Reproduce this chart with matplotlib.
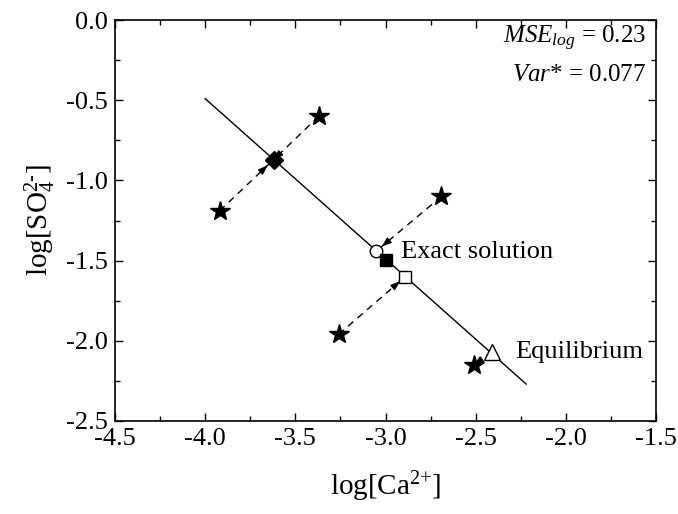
import matplotlib
matplotlib.use("Agg")
import matplotlib.pyplot as plt

plt.rcParams["font.family"] = ["Liberation Serif", "DejaVu Serif"]
plt.rcParams["mathtext.fontset"] = "custom"
plt.rcParams["mathtext.rm"] = "Liberation Serif"
plt.rcParams["mathtext.it"] = "Liberation Serif:italic"
plt.rcParams["axes.unicode_minus"] = False

# solubility line (log Ca vs log SO4)
line_x = [-4.0, -2.22]
line_y = [-0.49, -2.27]

# initial guesses (stars)
star_x = [-3.37, -3.92, -2.69, -3.26, -2.51]
star_y = [-0.60, -1.19, -1.10, -1.96, -2.15]

# points on the line
diamond_xy = (-3.62, -0.87)
circle_xy = (-3.05, -1.44)
exact_xy = (-2.995, -1.495)
square_xy = (-2.89, -1.60)
equil_xy = (-2.41, -2.07)

mse_log = 0.23
var_star = 0.077


def arrow(ax, start, end, shrink):
    ax.plot([start[0], end[0]], [start[1], end[1]], color="black",
            linestyle=(0, (5, 4)), linewidth=1.0, zorder=2)
    # short solid piece just for the head
    tail = (end[0] + 0.12 * (start[0] - end[0]), end[1] + 0.12 * (start[1] - end[1]))
    ax.annotate("", xy=end, xytext=tail,
                arrowprops=dict(arrowstyle="-|>,head_length=0.55,head_width=0.2",
                                color="black", lw=1.0, shrinkA=0, shrinkB=shrink),
                zorder=3)


fig = plt.figure(figsize=(6.78, 5.14), dpi=100)
ax = fig.add_axes([0.1696, 0.181, 0.7980, 0.780])

ax.plot(line_x, line_y, color="black", linewidth=1.0, zorder=1)

arrow(ax, (star_x[0], star_y[0]), diamond_xy, 6)
arrow(ax, (star_x[1], star_y[1]), diamond_xy, 6)
arrow(ax, (star_x[2], star_y[2]), circle_xy, 5)
arrow(ax, (star_x[3], star_y[3]), square_xy, 5)
arrow(ax, equil_xy, (star_x[4], star_y[4]), 7)

ax.plot(star_x, star_y, linestyle="none", marker="*", markersize=15,
        color="black", zorder=4)
ax.plot(*diamond_xy, marker="D", markersize=9, color="black", zorder=4)
ax.plot(*circle_xy, marker="o", markersize=9, markerfacecolor="white",
        markeredgecolor="black", markeredgewidth=1.0, zorder=4)
ax.plot(*exact_xy, marker="s", markersize=8, color="black", zorder=5)
ax.plot(*square_xy, marker="s", markersize=9, markerfacecolor="white",
        markeredgecolor="black", markeredgewidth=1.0, zorder=4)
ax.plot(*equil_xy, marker="^", markersize=12, markerfacecolor="white",
        markeredgecolor="black", markeredgewidth=1.0, zorder=4)

ax.text(-2.915, -1.445, "Exact solution", fontsize=19, ha="left", va="center")
ax.text(-2.28, -2.07, "Equilibrium", fontsize=19, ha="left", va="center")

ax.text(0.982, 0.955, r"$\mathit{MSE}_{\mathit{log}}$ = %.2f" % mse_log,
        transform=ax.transAxes, fontsize=18, ha="right", va="center")
ax.text(0.982, 0.862, r"$\mathit{Var}$* = %.3f" % var_star,
        transform=ax.transAxes, fontsize=18, ha="right", va="center")

ax.set_xlim(-4.5, -1.5)
ax.set_ylim(-2.5, 0.0)
ax.set_xticks([-4.5, -4.0, -3.5, -3.0, -2.5, -2.0, -1.5])
ax.set_yticks([-2.5, -2.0, -1.5, -1.0, -0.5, 0.0])
ax.set_xticks([-4.25, -3.75, -3.25, -2.75, -2.25, -1.75], minor=True)
ax.set_yticks([-2.25, -1.75, -1.25, -0.75, -0.25], minor=True)
ax.xaxis.set_major_formatter(matplotlib.ticker.FormatStrFormatter("%.1f"))
ax.yaxis.set_major_formatter(matplotlib.ticker.FormatStrFormatter("%.1f"))
ax.tick_params(which="both", direction="in", top=True, right=True, width=1.0)
ax.tick_params(which="major", length=6, labelsize=19)
ax.tick_params(which="minor", length=3.5)
ax.tick_params(axis="x", which="major", pad=5)
ax.tick_params(axis="y", which="major", pad=5)
for s in ax.spines.values():
    s.set_linewidth(1.2)

ax.set_xlabel(r"log[Ca$^{\text{2+}}$]", fontsize=21, labelpad=14)
ax.set_ylabel(r"log[SO$_4^{\text{2-}}$]", fontsize=21, labelpad=6)

fig.savefig("out.png", dpi=100)
